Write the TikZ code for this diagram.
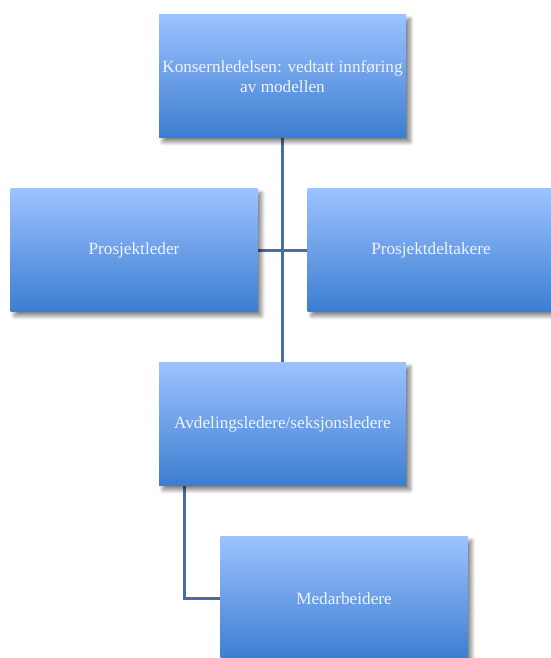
\documentclass[tikz,border=0pt]{standalone}
\usepackage{fontspec}
\setmainfont{Liberation Serif}
\usetikzlibrary{shadows.blur}
\pgfdeclarelayer{bg}
\pgfsetlayers{bg,main}
\definecolor{boxtop}{RGB}{156,194,255}
\definecolor{boxbot}{RGB}{60,125,208}
\definecolor{linec}{RGB}{72,108,164}
\definecolor{txtc}{RGB}{240,243,255}
\tikzset{
  orgbox/.style={rectangle, minimum width=247pt, minimum height=123pt,
    top color=boxtop, bottom color=boxbot, draw=none,
    text=txtc, align=center, inner sep=2pt,
    font=\fontsize{17.2}{19.5}\selectfont,
    blur shadow={shadow xshift=4pt, shadow yshift=-4pt, shadow blur radius=4pt, shadow blur steps=8, shadow opacity=50}},
  conn/.style={draw=linec, line width=2.2pt}
}
\begin{document}
\begin{tikzpicture}[x=1pt,y=1pt]
\useasboundingbox (0,0) rectangle (551,658);
\clip (0,0) rectangle (551,658);
\node[orgbox] (top) at (282.5,581.5) {Konsernledelsen: vedtatt innføring\\av modellen};
\node[orgbox] (pl) at (134,407.5) {Prosjektleder};
\node[orgbox] (pd) at (431,407.5) {Prosjektdeltakere};
\node[orgbox] (av) at (282.5,233.5) {Avdelingsledere/seksjonsledere};
\node[orgbox] (md) at (344,59.5) {Medarbeidere};
\begin{pgfonlayer}{bg}
\draw[conn] (top.south) -- (av.north);
\draw[conn] (pl.east) -- (pd.west);
\draw[conn] ([xshift=-98pt]av.south) |- (md.west);
\end{pgfonlayer}
\end{tikzpicture}
\end{document}
